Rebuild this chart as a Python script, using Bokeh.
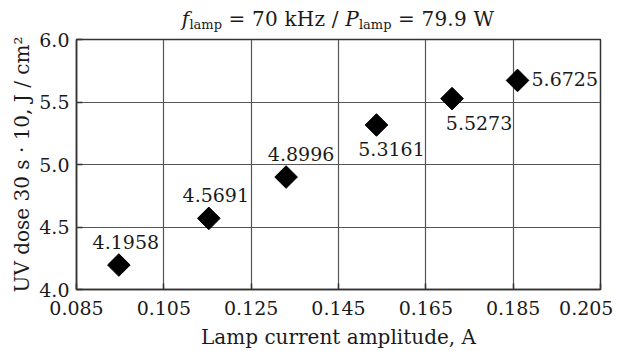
import math
from bokeh.plotting import figure
from bokeh.layouts import column
from bokeh.models import ColumnDataSource, FixedTicker, NumeralTickFormatter, Range1d, Div
from bokeh.core.properties import value
from bokeh.embed import file_html
from bokeh.resources import INLINE

# ---- data ----
current = [0.0947, 0.1153, 0.1330, 0.1537, 0.1710, 0.1860]
dose = [4.1958, 4.5691, 4.8996, 5.3161, 5.5273, 5.6725]
dose_labels = ["4.1958", "4.5691", "4.8996", "5.3161", "5.5273", "5.6725"]
x_ticks = [0.085, 0.105, 0.125, 0.145, 0.165, 0.185, 0.205]
y_ticks = [4.0, 4.5, 5.0, 5.5, 6.0]

# label placement (style)
label_dx = [7, 7, 15, 15, 27, 14]
label_dy = [-23, -23, -23, 24, 24, -1]
label_align = ["center", "center", "center", "center", "center", "left"]

FONT = "DejaVu Serif"
FS = "19px"
FS_AX = "20px"
TXT = "#1a1a1a"
W = 619
DIV_H = 30
FIG_H = 351 - DIV_H

title_html = (
    f'<div style="width:{W}px;height:{DIV_H}px;box-sizing:border-box;padding-left:57px;'
    f'padding-top:8px;text-align:center;font-family:\'{FONT}\';font-size:20px;line-height:22px;'
    f'color:{TXT};white-space:nowrap;letter-spacing:0.2px;">'
    '<i>f</i><span style="font-size:13px;position:relative;top:3px;letter-spacing:0">lamp</span>'
    ' = 70 kHz / '
    '<i>P</i><span style="font-size:13px;position:relative;top:3px;letter-spacing:0">lamp</span>'
    ' = 79.9 W</div>'
)
title = Div(text=title_html, width=W, height=DIV_H, margin=(0, 0, 0, 0))

src = ColumnDataSource(dict(x=current, y=dose, t=dose_labels,
                            dx=label_dx, dy=label_dy, al=label_align))

p = figure(width=W, height=FIG_H, output_backend="svg", toolbar_location=None,
           x_range=Range1d(x_ticks[0], x_ticks[-1]), y_range=Range1d(y_ticks[0], y_ticks[-1]),
           min_border_left=76, min_border_right=19, min_border_top=9, min_border_bottom=61,
           margin=(0, 0, 0, 0))
p.background_fill_color = "white"
p.border_fill_color = None
p.outline_line_color = "#333333"
p.outline_line_width = 1.5

p.xaxis.ticker = FixedTicker(ticks=x_ticks)
p.yaxis.ticker = FixedTicker(ticks=y_ticks)
p.xaxis.formatter = NumeralTickFormatter(format="0.000")
p.yaxis.formatter = NumeralTickFormatter(format="0.0")
# last tick label padded so it stays inside the canvas
p.xaxis.major_label_overrides = {x_ticks[-1]: f"{x_ticks[-1]:.3f}" + "\u00a0"}

for ax in (p.xaxis, p.yaxis):
    ax.axis_line_color = "#333333"
    ax.axis_line_width = 1.5
    ax.major_tick_in = 6
    ax.major_tick_out = 0
    ax.major_tick_line_color = "#333333"
    ax.major_tick_line_width = 1.5
    ax.minor_tick_line_color = None
    ax.major_label_text_font = FONT
    ax.major_label_text_font_size = FS
    ax.major_label_text_color = TXT
    ax.axis_label_text_font = FONT
    ax.axis_label_text_font_size = FS_AX
    ax.axis_label_text_font_style = "normal"
    ax.axis_label_text_color = TXT

p.xaxis.axis_label = "Lamp current amplitude, A"
p.yaxis.axis_label = "UV dose 30 s · 10, J / cm²"
p.xaxis.major_label_standoff = 7
p.xaxis.axis_label_standoff = 3
p.yaxis.major_label_standoff = 7
p.yaxis.axis_label_standoff = 2

p.xgrid.grid_line_color = "#555555"
p.ygrid.grid_line_color = "#555555"
p.xgrid.grid_line_width = 1.2
p.ygrid.grid_line_width = 1.2

p.scatter("x", "y", source=src, marker="square", size=16, angle=math.pi / 4,
          fill_color="black", line_color="black")
p.text("x", "y", text="t", source=src, x_offset="dx", y_offset="dy", text_align="al",
       text_baseline="alphabetic", text_font=value(FONT), text_font_size=FS, text_color=TXT)

layout = column(title, p, spacing=0)
open("out.html", "w").write(file_html(layout, INLINE))
